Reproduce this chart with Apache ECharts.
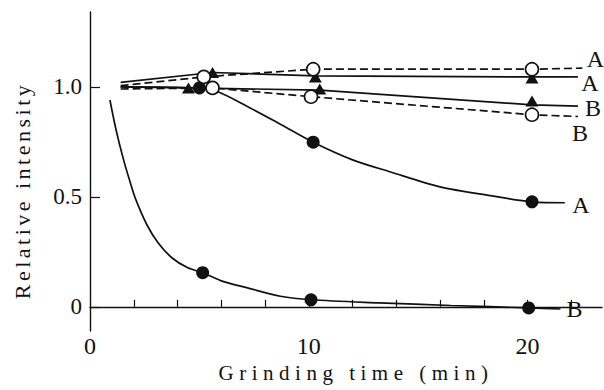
<!DOCTYPE html>
<html><head><meta charset="utf-8">
<script src="https://cdn.jsdelivr.net/npm/echarts@6/dist/echarts.min.js"></script>
<style>html,body{margin:0;padding:0;background:#fff}#c{width:604px;height:390px}</style>
</head><body><div id="c"></div>
<script>
// ---- axis text / ticks ----
const xAxisName = 'Grinding time (min)';
const yAxisName = 'Relative intensity';
const xLabelValues = [0, 10, 20];
const xTickValues = [2, 4, 6, 8, 10, 12, 14, 16, 18, 20, 22];
const yLabelValues = [0, 0.5, 1.0];

// ---- curves ----
const curveOpenA = [[1.4,1.005],[5.2,1.045],[10.2,1.08],[20.2,1.08],[22.5,1.085]];
const curveTriA  = [[1.4,1.02],[5.6,1.065],[10.3,1.05],[20.2,1.045],[22.3,1.045]];
const curveTriB  = [[1.4,1.0],[4.5,0.995],[10.5,0.985],[20.2,0.918],[22.3,0.912]];
const curveOpenB = [[1.4,0.99],[5.6,0.995],[10.1,0.955],[20.2,0.873],[22.3,0.865]];
const curveFillA = [[1.4,1.0],[5.0,0.995],[5.8,0.98],[7.3,0.905],[8.7,0.83],[10.2,0.748],[12.0,0.668],[13.7,0.614],[16.0,0.545],[18.3,0.505],[20.2,0.477],[21.7,0.473]];
const curveFillB = [[0.91,0.94],[1.19,0.805],[1.51,0.677],[1.83,0.568],[2.1,0.486],[2.6,0.373],[3.11,0.291],[3.74,0.223],[4.47,0.177],[5.15,0.155],[6.0,0.118],[7.2,0.086],[8.7,0.048],[10.1,0.032],[13.2,0.018],[16.5,0.006],[20.05,-0.005],[21.5,-0.01]];

// ---- measured points (markers) ----
const ptsOpenA = [[5.2,1.045],[10.2,1.08],[20.2,1.08]];
const ptsTriA  = [[5.6,1.065],[10.3,1.045],[20.2,1.04]];
const ptsTriB  = [[4.5,0.995],[10.5,0.99],[20.2,0.935]];
const ptsOpenB = [[5.6,0.995],[10.1,0.955],[20.2,0.873]];
const ptsFillA = [[5.0,0.995],[10.2,0.748],[20.2,0.477]];
const ptsFillB = [[5.15,0.155],[10.1,0.032],[20.05,-0.005]];

// ---- curve end labels ----
const curveLabels = ['A', 'A', 'B', 'B', 'A', 'B'];

const INK = '#111';
const FONT = 'Liberation Serif';

function lineSeries(data, dashed, smooth, label, offset) {
  return {
    type: 'line', data: data, smooth: smooth, showSymbol: false, symbol: 'none',
    lineStyle: { color: INK, width: 1.7, type: dashed ? [8, 4] : 'solid' },
    z: 2, silent: true, animation: false,
    markPoint: {
      symbol: 'circle', symbolSize: 0, animation: false, silent: true,
      data: [{ coord: data[data.length - 1] }],
      label: { show: true, position: 'inside', formatter: label, offset: offset,
               color: INK, fontFamily: FONT, fontSize: 24 }
    }
  };
}
function markerSeries(data, symbol, size, fill, z) {
  return {
    type: 'scatter', data: data, symbol: symbol, symbolSize: size, z: z,
    itemStyle: { color: fill, borderColor: INK, borderWidth: fill === '#fff' ? 1.6 : 0, opacity: 1 },
    silent: true, animation: false
  };
}

const chart = echarts.init(document.getElementById('c'), null, { renderer: 'svg' });
chart.setOption({
  animation: false,
  backgroundColor: '#fff',
  textStyle: { fontFamily: FONT },
  grid: { left: 90, right: 2, top: 12, bottom: 59, containLabel: false, outerBoundsMode: 'none' },
  xAxis: {
    type: 'value', min: 0, max: 23.4, interval: 2,
    name: xAxisName, nameLocation: 'middle', nameGap: 31, nameMoveOverlap: false,
    nameTextStyle: { fontFamily: FONT, fontSize: 21, color: INK, padding: [0, 0, 0, 20] },
    axisLine: { show: true, lineStyle: { color: INK, width: 1.4 } },
    axisTick: { show: true, inside: true, length: 7, customValues: xTickValues, lineStyle: { color: INK, width: 1.2 } },
    axisLabel: { show: true, customValues: xLabelValues, margin: 3, fontFamily: FONT, fontSize: 24, color: INK },
    splitLine: { show: false }
  },
  yAxis: {
    type: 'value', min: -0.11, max: 1.34,
    name: yAxisName, nameLocation: 'middle', nameGap: 57, nameMoveOverlap: false,
    nameTextStyle: { fontFamily: FONT, fontSize: 22, color: INK, padding: [0, 38, 0, 0] },
    axisLine: { show: true, lineStyle: { color: INK, width: 1.4 } },
    axisTick: { show: true, inside: true, length: 10, customValues: yLabelValues, lineStyle: { color: INK, width: 1.2 } },
    axisLabel: { show: true, customValues: yLabelValues, margin: 8, fontFamily: FONT, fontSize: 23, color: INK,
                 formatter: v => (v === 0 ? '0' : v.toFixed(1)) },
    splitLine: { show: false }
  },
  series: [
    lineSeries(curveOpenA, true, false, curveLabels[0], [13, -9]),
    lineSeries(curveTriA, false, false, curveLabels[1], [12, 6]),
    lineSeries(curveTriB, false, false, curveLabels[2], [15, 2]),
    lineSeries(curveOpenB, true, false, curveLabels[3], [2, 16]),
    lineSeries(curveFillA, false, 0.3, curveLabels[4], [16, 2]),
    lineSeries(curveFillB, false, 0.3, curveLabels[5], [14, 0]),
    markerSeries(ptsTriA, 'triangle', [13, 11], INK, 4),
    markerSeries(ptsTriB, 'triangle', [13, 11], INK, 4),
    markerSeries(ptsFillA, 'circle', 13, INK, 4),
    markerSeries(ptsFillB, 'circle', 13, INK, 4),
    markerSeries(ptsOpenA, 'circle', 13, '#fff', 5),
    markerSeries(ptsOpenB, 'circle', 13, '#fff', 5)
  ]
});

function applySpacing() {
  document.querySelectorAll('#c text').forEach(t => {
    t.style.fontFamily = 'Liberation Serif';
    t.setAttribute('font-family', 'Liberation Serif');
    if (t.textContent === xAxisName) t.style.letterSpacing = '5.5px';
    else if (t.textContent === yAxisName) t.style.letterSpacing = '3.5px';
  });
}
applySpacing();
chart.on('finished', applySpacing);
</script>
</body></html>
